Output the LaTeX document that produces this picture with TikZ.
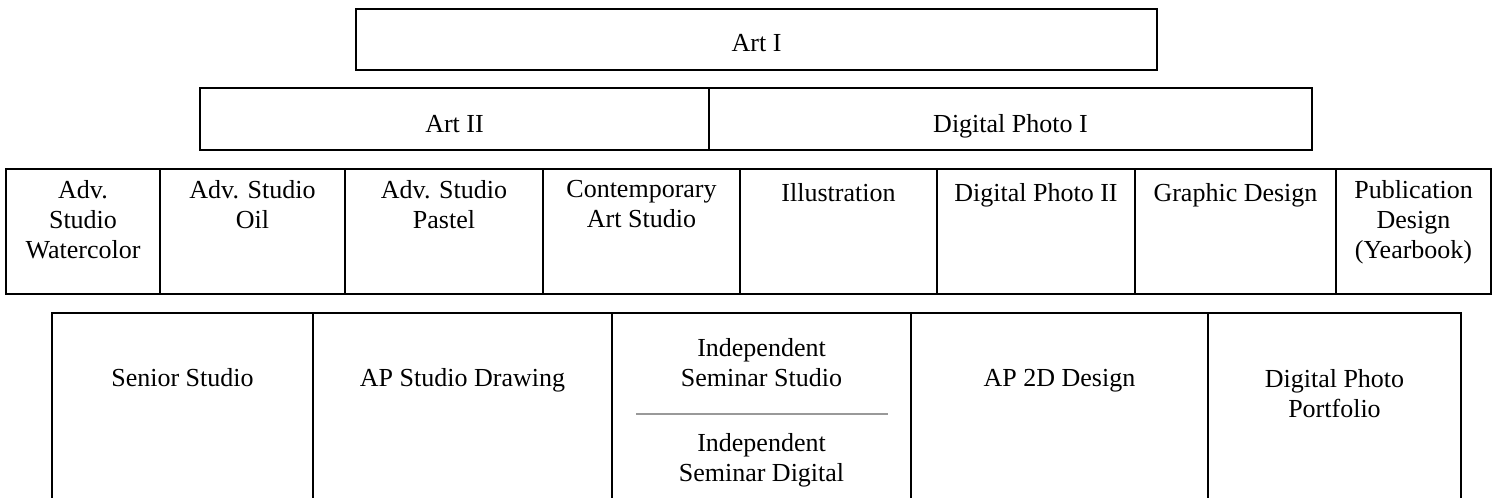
\documentclass[tikz,border=0pt]{standalone}
\usepackage{fontspec}
\setmainfont{Liberation Serif}
\usetikzlibrary{positioning,fit}

\begin{document}
\begin{tikzpicture}[x=0.75pt,y=-0.75pt,semithick]
  \tikzstyle{box}=[draw, line width=2pt, rectangle, inner sep=0pt]
  \tikzstyle{txt}=[align=center, inner sep=0pt, font=\fontsize{19.5}{22.5}\selectfont,
                   execute at begin node=\strut]
  \useasboundingbox (0,0) rectangle (1493,498);
  \clip (0,0) rectangle (1493,498);

  % first two rows
  \node[box, fit={(356,9) (1157,70)}]   (art1)  {};
  \node[box, fit={(200,88) (709,150)}]  (art2)  {};
  \node[box, fit={(709,88) (1312,150)}] (dph1)  {};
  \node[txt, anchor=base, yshift=-9pt]  (art1-t) at (art1.center) {Art I};
  \node[txt, anchor=base, yshift=-10.5pt] (art2-t) at (art2.center) {Art II};
  \node[txt, anchor=base, yshift=-10.5pt] (dph1-t) at (dph1.center) {Digital Photo I};

  % third row
  \foreach \a/\b/\n/\t in {6/160/wat/{Adv.\\Studio\\Watercolor},
                           160/345/oil/{Adv. Studio\\Oil},
                           345/543/pas/{Adv. Studio\\Pastel},
                           543/740/con/{Contemporary\\Art Studio},
                           740/937/ill/{Illustration},
                           937/1135/dph2/{Digital Photo II},
                           1135/1336/gra/{Graphic Design},
                           1336/1491/pub/{Publication\\Design\\(Yearbook)}}{
    \node[box, fit={(\a,169) (\b,294)}] (\n) {};
    \node[txt, anchor=north, yshift=-9pt] (\n-t) at (\n.north) {\t};
  }

  % fourth row
  \foreach \a/\b/\n/\t in {52/313/sen/{Senior Studio},
                           313/612/apd/{AP Studio Drawing},
                           612/911/ind/{},
                           911/1208/ap2/{AP 2D Design}}{
    \node[box, fit={(\a,313) (\b,520)}] (\n) {};
    \node[txt, anchor=north, yshift=-39.75pt] (\n-t) at (\n.north) {\t};
  }
  \node[box, fit={(1208,313) (1461,520)}] (dpp) {};
  \node[txt, anchor=north, yshift=-42.75pt] (dpp-t) at (dpp.north) {Digital Photo\\Portfolio};
  \node[txt, anchor=north, yshift=-19.5pt] (ind-s) at (ind.north) {Independent\\Seminar Studio};
  \node[txt, anchor=north, yshift=-90.75pt] (ind-d) at (ind.north) {Independent\\Seminar Digital};
  \coordinate (sep-l) at (636,414);
  \coordinate (sep-r) at (888,414);
  \draw[line width=1.5pt, color=black!40] (sep-l) -- (sep-r);
\end{tikzpicture}
\end{document}
